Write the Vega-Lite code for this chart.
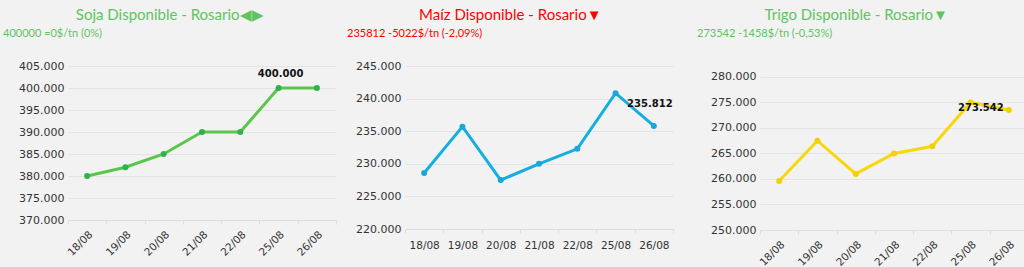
{
  "$schema": "https://vega.github.io/schema/vega-lite/v6.json",
  "background": "#f2f2f2",
  "padding": {"left": 3, "top": 8, "right": 0, "bottom": 0},
  "autosize": {"type": "pad"},
  "spacing": 10,
  "datasets": {
    "soja": [
      {"date": "18/08", "value": 380000},
      {"date": "19/08", "value": 382000},
      {"date": "20/08", "value": 385000},
      {"date": "21/08", "value": 390000},
      {"date": "22/08", "value": 390000},
      {"date": "25/08", "value": 400000, "label": "400.000"},
      {"date": "26/08", "value": 400000}
    ],
    "maiz": [
      {"date": "18/08", "value": 228600},
      {"date": "19/08", "value": 235700},
      {"date": "20/08", "value": 227500},
      {"date": "21/08", "value": 230000},
      {"date": "22/08", "value": 232300},
      {"date": "25/08", "value": 240834},
      {"date": "26/08", "value": 235812, "label": "235.812"}
    ],
    "trigo": [
      {"date": "18/08", "value": 259600},
      {"date": "19/08", "value": 267500},
      {"date": "20/08", "value": 261000},
      {"date": "21/08", "value": 265000},
      {"date": "22/08", "value": 266400},
      {"date": "25/08", "value": 275000},
      {"date": "26/08", "value": 273542, "label": "273.542"}
    ]
  },
  "config": {
    "view": {"stroke": null},
    "axis": {
      "labelFont": "DejaVu Sans",
      "labelFontSize": 11,
      "labelColor": "#333333",
      "labelOverlap": false,
      "gridColor": "#e4e4e4",
      "domainColor": "#dddddd",
      "tickColor": "#dddddd"
    },
    "axisX": {"labelFontSize": 10.5},
    "title": {"font": "Lato", "fontWeight": "normal"}
  },
  "hconcat": [
    {
      "title": {"text": "Soja Disponible - Rosario◀▶", "anchor": "middle", "frame": "bounds", "color": "#5ec45e", "fontSize": 15, "offset": 5},
      "vconcat": [
        {
          "title": {"text": "400000 =0$/tn (0%)", "anchor": "start", "frame": "group", "dx": -65, "color": "#5ec45e", "fontSize": 11, "offset": 21},
          "width": 268,
          "height": 154,
          "data": {"name": "soja"},
          "encoding": {
            "x": {"field": "date", "type": "ordinal", "sort": null, "bandPosition": 0.5,
              "scale": {"type": "band", "paddingInner": 0, "paddingOuter": 0},
              "axis": {"title": null, "labelAngle": -45, "tickBand": "extent", "tickSize": 4, "labelPadding": 5, "grid": false}},
            "y": {"field": "value", "type": "quantitative",
              "scale": {"domain": [370000, 405000], "nice": false, "zero": false},
              "axis": {"title": null, "domain": false, "ticks": false, "labelPadding": 4, "minExtent": 65,
                "values": [370000, 375000, 380000, 385000, 390000, 395000, 400000, 405000],
                "labelExpr": "replace(format(datum.value, ','), ',', '.')"}}
          },
          "layer": [
            {
              "mark": {"type": "line", "color": "#5cc54e", "strokeWidth": 3, "point": {"filled": true, "color": "#2db34a", "size": 36, "opacity": 1}}
            },
            {
              "transform": [{"filter": "isValid(datum.label)"}],
              "mark": {"type": "text", "font": "DejaVu Sans", "fontWeight": "bold", "fontSize": 10, "color": "#111111", "dx": 2, "dy": -14},
              "encoding": {"text": {"field": "label"}}
            }
          ]
        }
      ]
    },
    {
      "title": {"text": "Maíz Disponible - Rosario▼", "anchor": "middle", "frame": "bounds", "color": "#ff0000", "fontSize": 15, "offset": 5},
      "vconcat": [
        {
          "title": {"text": "235812 -5022$/tn (-2,09%)", "anchor": "start", "frame": "group", "dx": -58, "color": "#ff0000", "fontSize": 11, "offset": 21},
          "width": 268,
          "height": 163,
          "data": {"name": "maiz"},
          "encoding": {
            "x": {"field": "date", "type": "ordinal", "sort": null, "bandPosition": 0.5,
              "scale": {"type": "band", "paddingInner": 0, "paddingOuter": 0},
              "axis": {"title": null, "labelAngle": 0, "tickBand": "extent", "tickSize": 4, "labelPadding": 7, "grid": false}},
            "y": {"field": "value", "type": "quantitative",
              "scale": {"domain": [220000, 245000], "nice": false, "zero": false},
              "axis": {"title": null, "domain": false, "ticks": false, "labelPadding": 4, "minExtent": 58,
                "values": [220000, 225000, 230000, 235000, 240000, 245000],
                "labelExpr": "replace(format(datum.value, ','), ',', '.')"}}
          },
          "layer": [
            {
              "mark": {"type": "line", "color": "#14aee0", "strokeWidth": 3, "point": {"filled": true, "color": "#1aa6d8", "size": 36, "opacity": 1}}
            },
            {
              "transform": [{"filter": "isValid(datum.label)"}],
              "mark": {"type": "text", "font": "DejaVu Sans", "fontWeight": "bold", "fontSize": 10, "color": "#111111", "dx": -4, "dy": -22},
              "encoding": {"text": {"field": "label"}}
            }
          ]
        }
      ]
    },
    {
      "title": {"text": "Trigo Disponible - Rosario▼", "anchor": "middle", "frame": "bounds", "color": "#5ec45e", "fontSize": 15, "offset": 5},
      "vconcat": [
        {
          "title": {"text": "273542 -1458$/tn (-0,53%)", "anchor": "start", "frame": "group", "dx": -63, "color": "#5ec45e", "fontSize": 11, "offset": 27},
          "width": 268,
          "height": 164,
          "data": {"name": "trigo"},
          "encoding": {
            "x": {"field": "date", "type": "ordinal", "sort": null, "bandPosition": 0.5,
              "scale": {"type": "band", "paddingInner": 0, "paddingOuter": 0},
              "axis": {"title": null, "labelAngle": -45, "tickBand": "extent", "tickSize": 4, "labelPadding": 5, "grid": false}},
            "y": {"field": "value", "type": "quantitative",
              "scale": {"domain": [250000, 282150], "nice": false, "zero": false},
              "axis": {"title": null, "domain": false, "ticks": false, "labelPadding": 4, "minExtent": 76,
                "values": [250000, 255000, 260000, 265000, 270000, 275000, 280000],
                "labelExpr": "replace(format(datum.value, ','), ',', '.')"}}
          },
          "layer": [
            {
              "mark": {"type": "line", "color": "#f8d808", "strokeWidth": 3, "point": {"filled": true, "color": "#f5d000", "size": 36, "opacity": 1}}
            },
            {
              "transform": [{"filter": "isValid(datum.label)"}],
              "mark": {"type": "text", "font": "DejaVu Sans", "fontWeight": "bold", "fontSize": 10, "color": "#111111", "dx": -28, "dy": -2},
              "encoding": {"text": {"field": "label"}}
            }
          ]
        }
      ]
    }
  ]
}
